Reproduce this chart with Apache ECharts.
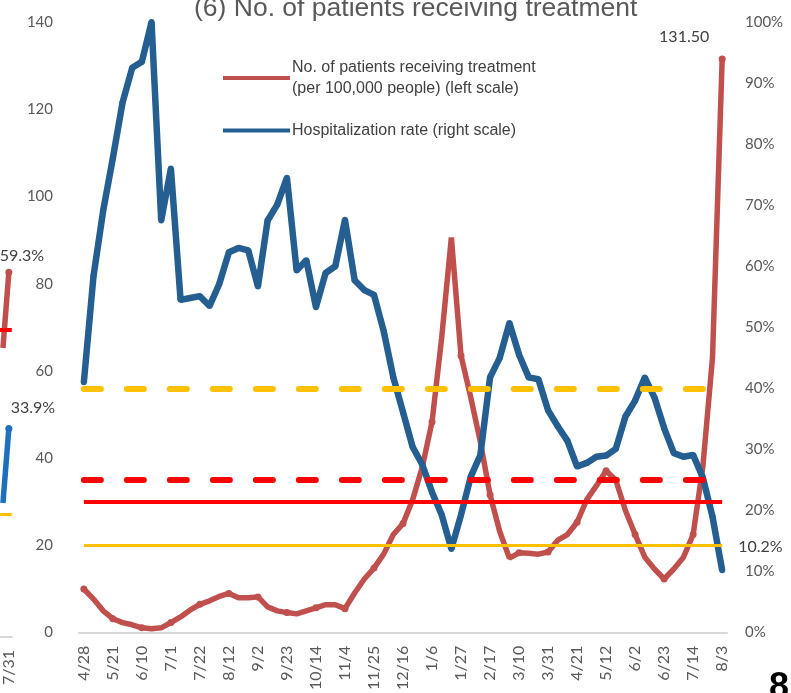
<!DOCTYPE html>
<html>
<head>
<meta charset="utf-8">
<script src="https://cdn.jsdelivr.net/npm/echarts@6/dist/echarts.min.js"></script>
<style>
html,body{margin:0;padding:0;background:#fff;}
#chart{width:791px;height:693px;}
</style>
</head>
<body>
<div id="chart"></div>
<script>
// ---- data ----
const categories = ['4/28','5/5','5/13','5/21','5/27','6/3','6/10','6/17','6/24','7/1','7/8','7/15','7/22','7/29','8/5','8/12','8/19','8/26','9/2','9/9','9/16','9/23','9/30','10/7','10/14','10/21','10/28','11/4','11/11','11/18','11/25','12/2','12/9','12/16','12/23','12/30','1/6','1/13','1/20','1/27','2/3','2/10','2/17','2/24','3/3','3/10','3/17','3/24','3/31','4/7','4/14','4/21','4/28','5/5','5/12','5/19','5/26','6/2','6/9','6/16','6/23','6/30','7/7','7/14','7/21','7/28','8/3'];
const patients = [10.0,7.7,5.0,3.2,2.3,1.8,1.1,0.9,1.1,2.3,3.6,5.2,6.5,7.3,8.3,9.0,8.0,8.0,8.2,5.9,5.0,4.6,4.3,5.0,5.7,6.4,6.4,5.5,9.1,12.3,14.8,18.0,22.5,25.0,30.5,38.0,48.3,67.6,90.6,63.5,54.0,43.7,31.6,23.2,17.1,18.3,18.2,18.0,18.5,21.2,22.5,25.3,30.5,33.7,37.1,35.0,28.0,22.5,17.3,14.6,12.3,14.6,17.3,22.5,38.0,63.0,131.5];
const hospRate = [41.0,58.4,69.1,77.7,86.8,92.5,93.5,100.0,67.5,76.0,54.5,54.8,55.1,53.5,57.1,62.3,63.0,62.6,56.7,67.5,70.1,74.5,59.3,61.0,53.3,58.9,60.0,67.6,57.7,56.1,55.3,49.4,41.8,36.1,30.4,27.5,23.0,19.3,13.7,19.3,25.5,29.1,41.8,45.0,50.7,45.5,41.8,41.5,36.4,33.8,31.4,27.2,27.8,28.8,29.0,30.1,35.4,38.0,41.8,38.5,33.5,29.4,28.8,29.1,25.4,19.0,10.2];
const leftTicks = [0, 140, 20];       // min, max, interval
const rightTicks = [0, 100, 10];      // percent
const patientStages = [20, 30];       // stage III, stage IV (left scale)
const rateStages = [40, 25];          // stage III, stage IV (right scale, %)
// neighbouring panel (5), partly visible at left edge
const prevCategories = ['7/24', '7/31'];
const prevRed = [47.0, 59.3];
const prevBlue = [21.8, 33.9];
const prevStages = [20, 50];

const nameRed = 'No. of patients receiving treatment\n(per 100,000 people) (left scale)';
const nameBlue = 'Hospitalization rate (right scale)';
const RED = '#C0504D', BLUE = '#255E91', SRED = '#FF0000', SYEL = '#FFC000';
const GRAY = '#595959';
const last = categories.length - 1;

function withEndLabel(arr, labelOpt) {
  return arr.map((v, i) => i === arr.length - 1 ? { value: v, label: labelOpt } : v);
}
function span(v, style) {
  return [{ coord: [0, v], lineStyle: style }, { coord: [last, v] }];
}

const chart = echarts.init(document.getElementById('chart'), null, { renderer: 'canvas' });
chart.setOption({
  animation: false,
  backgroundColor: '#fff',
  textStyle: { fontFamily: 'Lato' },
  title: {
    text: '(6) No. of patients receiving treatment',
    left: 194, top: -5, padding: 0,
    textStyle: { fontFamily: 'Liberation Sans', fontSize: 26.5, fontWeight: 'normal', color: GRAY }
  },
  legend: {
    orient: 'vertical', left: 223, top: 57, padding: 0, itemGap: 21,
    itemWidth: 67, itemHeight: 4, icon: 'rect',
    data: [nameRed, nameBlue],
    textStyle: { fontFamily: 'Liberation Sans', fontSize: 16, color: '#404040', lineHeight: 21, padding: [0, 0, 0, -3] }
  },
  graphic: [{
    type: 'text', left: 769, top: 670,
    style: { text: '8', font: 'bold 36px "Liberation Sans"', fill: '#000' }
  }],
  grid: [
    { left: 79, right: 64, top: 22, bottom: 56 },
    { left: -7.5, width: 19.3, top: 22, bottom: 56 }
  ],
  xAxis: [{
    type: 'category', gridIndex: 0, data: categories, boundaryGap: true,
    axisLine: { lineStyle: { color: '#D9D9D9', width: 2 } },
    axisTick: { show: false },
    axisLabel: { interval: 2, rotate: 90, margin: 13, fontSize: 16, color: GRAY }
  }, {
    type: 'category', gridIndex: 1, data: prevCategories, boundaryGap: true,
    axisLine: { lineStyle: { color: '#D9D9D9', width: 2 } },
    axisTick: { show: false },
    axisLabel: { interval: (i) => i === prevCategories.length - 1, rotate: 90, margin: 13, fontSize: 16, color: GRAY }
  }],
  yAxis: [{
    type: 'value', gridIndex: 0, min: leftTicks[0], max: leftTicks[1], interval: leftTicks[2],
    axisLine: { show: false }, axisTick: { show: false }, splitLine: { show: false },
    axisLabel: { margin: 26, fontSize: 15, color: GRAY }
  }, {
    type: 'value', gridIndex: 0, position: 'right', min: rightTicks[0], max: rightTicks[1], interval: rightTicks[2],
    axisLine: { show: false }, axisTick: { show: false }, splitLine: { show: false },
    axisLabel: { margin: 18, fontSize: 15, color: GRAY, formatter: '{value}%' }
  }, {
    type: 'value', gridIndex: 1, min: 0, max: 100, show: false
  }],
  series: [{
    name: nameRed, type: 'line', xAxisIndex: 0, yAxisIndex: 0,
    data: withEndLabel(patients, {
      show: true, position: 'top', offset: [-38, -6], fontSize: 16, color: '#404040',
      formatter: (p) => p.value.toFixed(2)
    }),
    symbol: 'circle', symbolSize: 7, showSymbol: true,
    lineStyle: { color: RED, width: 5.5 }, itemStyle: { color: RED },
    markLine: {
      silent: true, symbol: ['none', 'none'], label: { show: false },
      data: [
        span(patientStages[0], { color: SYEL, width: 3, type: 'solid' }),
        span(patientStages[1], { color: SRED, width: 4, type: 'solid' })
      ]
    }
  }, {
    name: nameBlue, type: 'line', xAxisIndex: 0, yAxisIndex: 1,
    data: withEndLabel(hospRate, {
      show: true, position: 'right', offset: [8, -24], fontSize: 16, color: '#404040',
      formatter: (p) => p.value.toFixed(1) + '%'
    }),
    symbol: 'circle', symbolSize: 6, showSymbol: true,
    lineStyle: { color: BLUE, width: 6.5 }, itemStyle: { color: BLUE },
    markLine: {
      silent: true, symbol: ['none', 'none'], label: { show: false },
      data: [
        span(rateStages[0], { color: SYEL, width: 6, type: [17, 26], cap: 'round' }),
        span(rateStages[1], { color: SRED, width: 6, type: [17, 26], cap: 'round' })
      ]
    }
  }, {
    name: 'prevRed', type: 'line', xAxisIndex: 1, yAxisIndex: 2,
    data: withEndLabel(prevRed, {
      show: true, position: 'top', offset: [13, 0], fontSize: 16, color: '#404040',
      formatter: (p) => p.value.toFixed(1) + '%'
    }),
    symbol: 'circle', symbolSize: 7, showSymbol: true,
    lineStyle: { color: RED, width: 5.5 }, itemStyle: { color: RED },
    markLine: {
      silent: true, symbol: ['none', 'none'], label: { show: false },
      data: [
        { yAxis: prevStages[0], lineStyle: { color: SYEL, width: 3, type: 'solid' } },
        { yAxis: prevStages[1], lineStyle: { color: SRED, width: 4, type: 'solid' } }
      ]
    }
  }, {
    name: 'prevBlue', type: 'line', xAxisIndex: 1, yAxisIndex: 2,
    data: withEndLabel(prevBlue, {
      show: true, position: 'top', offset: [24, -4], fontSize: 16, color: '#404040',
      formatter: (p) => p.value.toFixed(1) + '%'
    }),
    symbol: 'circle', symbolSize: 7, showSymbol: true,
    lineStyle: { color: '#1F6FBF', width: 5.5 }, itemStyle: { color: '#1F6FBF' }
  }]
});
</script>
</body>
</html>
